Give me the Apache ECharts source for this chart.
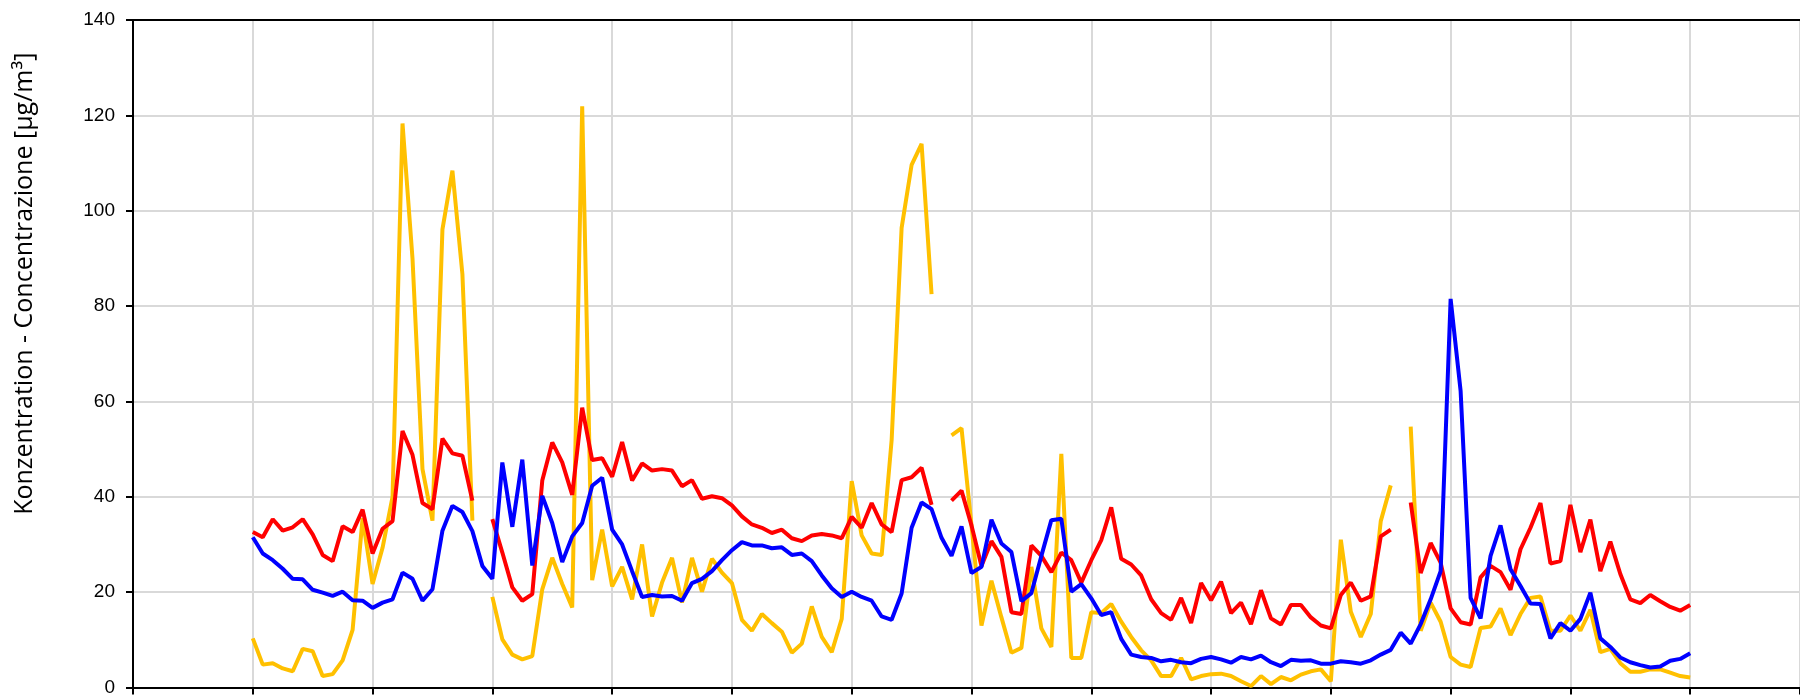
<!DOCTYPE html>
<html>
<head>
<meta charset="utf-8">
<script src="https://cdn.jsdelivr.net/npm/echarts@6/dist/echarts.min.js"></script>
<style>
  html, body { margin: 0; padding: 0; background: #fff; }
  #main { width: 1800px; height: 697px; }
</style>
</head>
<body>
<div id="main"></div>
<script>
// Messwerte, ein Wert pro Zeitschritt (null = Lücke)
var yellowValues = [
  10.3, 4.8, 5.1, 4.0, 3.4, 8.1, 7.6, 2.4, 2.8, 5.7, 12.1, 35.5, 21.7, 29.3, 40.0, 118.3, 90.0, 45.8, 35.0, 96.1, 108.4, 86.7, 35.0, null,
  19.0, 10.1, 6.9, 5.9, 6.6, 20.6, 27.2, 21.7, 16.8, 121.9, 22.5, 33.1, 21.2, 25.3, 18.5, 30.0, 14.9, 22.0, 27.2, 17.8, 27.2, 20.1, 27.0, 24.1,
  21.9, 14.2, 11.9, 15.4, 13.5, 11.7, 7.3, 9.2, 17.0, 10.6, 7.4, 14.4, 43.3, 31.9, 28.1, 27.8, 51.9, 96.4, 109.6, 114.0, 82.5, null, 52.9, 54.4,
  34.0, 13.0, 22.4, 14.7, 7.3, 8.3, 25.3, 12.4, 8.5, 49.0, 6.2, 6.2, 15.8, 15.6, 17.5, 13.8, 10.6, 7.8, 5.7, 2.4, 2.4, 6.2, 1.7, 2.4,
  2.8, 2.9, 2.4, 1.3, 0.3, 2.4, 0.7, 2.2, 1.5, 2.7, 3.4, 3.8, 1.3, 31.0, 15.9, 10.6, 15.4, 34.9, 42.4, null, 54.7, 11.9, 17.8, 13.8,
  6.4, 4.8, 4.3, 12.5, 12.8, 16.6, 11.0, 15.4, 18.8, 19.1, 11.9, 11.9, 15.1, 11.9, 16.3, 7.4, 8.1, 5.1, 3.3, 3.3, 3.8, 3.8, 3.1, 2.4, 2.1
];
var redValues = [
  32.6, 31.5, 35.3, 32.9, 33.6, 35.3, 32.1, 27.8, 26.5, 33.8, 32.6, 37.3, 28.1, 33.3, 34.9, 53.8, 48.8, 38.7, 37.4, 52.2, 49.1, 48.6, 39.2, null,
  35.3, 28.3, 21.0, 18.2, 19.6, 43.4, 51.4, 47.2, 40.4, 58.7, 47.7, 48.1, 44.2, 51.5, 43.4, 47.0, 45.5, 45.8, 45.5, 42.2, 43.5, 39.6, 40.1, 39.7,
  38.2, 35.9, 34.2, 33.5, 32.4, 33.1, 31.3, 30.7, 31.9, 32.2, 31.9, 31.3, 35.8, 33.5, 38.7, 34.2, 32.6, 43.5, 44.1, 46.1, 38.3, null, 39.2, 41.3,
  34.0, 25.5, 30.7, 27.4, 15.8, 15.4, 29.8, 27.6, 24.2, 28.3, 26.7, 22.0, 26.7, 30.9, 37.8, 27.0, 25.8, 23.5, 18.5, 15.6, 14.2, 18.8, 13.5, 21.9,
  18.3, 22.2, 15.6, 17.8, 13.3, 20.4, 14.5, 13.2, 17.3, 17.3, 14.7, 13.0, 12.4, 19.4, 22.0, 18.2, 19.1, 31.7, 33.1, null, 38.8, 24.0, 30.3, 26.2,
  16.6, 13.7, 13.2, 23.1, 25.5, 24.2, 20.5, 29.0, 33.5, 38.7, 26.0, 26.5, 38.3, 28.4, 35.2, 24.4, 30.6, 23.8, 18.5, 17.7, 19.4, 18.1, 16.9, 16.1, 17.3
];
var blueValues = [
  31.5, 28.1, 26.7, 24.9, 22.8, 22.7, 20.5, 19.9, 19.2, 20.1, 18.3, 18.2, 16.7, 17.8, 18.5, 24.1, 22.8, 18.2, 20.6, 32.9, 38.1, 36.8, 32.8, 25.5,
  22.8, 47.2, 33.7, 47.8, 25.6, 40.2, 34.5, 26.3, 31.7, 34.5, 42.3, 44.0, 33.1, 30.0, 24.4, 19.0, 19.4, 19.1, 19.2, 18.2, 21.9, 22.8, 24.4, 26.7,
  28.8, 30.5, 29.8, 29.8, 29.2, 29.4, 27.8, 28.1, 26.5, 23.5, 20.8, 19.0, 20.1, 19.0, 18.2, 14.9, 14.2, 19.7, 33.5, 38.8, 37.4, 31.4, 27.6, 33.8,
  24.0, 25.3, 35.2, 30.2, 28.4, 18.1, 19.8, 27.6, 35.1, 35.4, 20.1, 21.7, 18.7, 15.2, 15.8, 10.2, 6.9, 6.4, 6.2, 5.5, 5.8, 5.3, 5.1, 6.0,
  6.4, 5.9, 5.2, 6.4, 5.9, 6.7, 5.3, 4.5, 5.8, 5.6, 5.7, 5.0, 5.0, 5.5, 5.3, 5.0, 5.7, 6.9, 7.9, 11.5, 9.2, 13.3, 18.5, 24.4,
  81.5, 62.2, 18.8, 14.5, 27.6, 34.0, 24.8, 21.3, 17.6, 17.5, 10.3, 13.5, 11.9, 14.4, 19.9, 10.3, 8.5, 6.3, 5.3, 4.7, 4.2, 4.4, 5.6, 6.0, 7.2
];
var yTicks = [0, 20, 40, 60, 80, 100, 120, 140];

function toPoints(values) {
  return values.map(function (v, i) { return [i, v === null ? '-' : v]; });
}

var myChart = echarts.init(document.getElementById('main'));
myChart.setOption({
  animation: false,
  grid: {
    left: 133,
    right: -3,
    top: 20,
    bottom: 5
  },
  xAxis: [
    {
      type: 'value',
      min: -12,
      max: 155,
      interval: 12,
      axisLine: { show: true, onZero: false, lineStyle: { color: '#000', width: 2 } },
      axisTick: { show: true, length: 7, lineStyle: { color: '#000', width: 2 } },
      axisLabel: { show: false },
      splitLine: { show: true, lineStyle: { color: '#d9d9d9', width: 2 } }
    },
    {
      // obere Rahmenlinie
      type: 'value',
      position: 'top',
      min: -12,
      max: 155,
      interval: 12,
      axisLine: { show: true, onZero: false, lineStyle: { color: '#000', width: 2 } },
      axisTick: { show: false },
      axisLabel: { show: false },
      splitLine: { show: false }
    }
  ],
  yAxis: {
    type: 'value',
    min: yTicks[0],
    max: yTicks[yTicks.length - 1],
    interval: 20,
    name: 'Konzentration - Concentrazione [µg/m³]',
    nameLocation: 'middle',
    nameGap: 96,
    nameTextStyle: { fontFamily: 'Open Sans', fontSize: 25, color: '#000', padding: [0, 0, 0, 140] },
    axisLine: { show: true, onZero: false, lineStyle: { color: '#000', width: 2 } },
    axisTick: { show: true, length: 7, lineStyle: { color: '#000', width: 2 } },
    axisLabel: { margin: 18, fontFamily: 'Liberation Sans', fontSize: 19, color: '#000' },
    splitLine: { show: true, lineStyle: { color: '#d9d9d9', width: 2 } }
  },
  series: [
    {
      type: 'line',
      data: toPoints(yellowValues),
      showSymbol: false,
      connectNulls: false,
      lineStyle: { color: '#FFC000', width: 4 },
      itemStyle: { color: '#FFC000' }
    },
    {
      type: 'line',
      data: toPoints(redValues),
      showSymbol: false,
      connectNulls: false,
      lineStyle: { color: '#FF0000', width: 4 },
      itemStyle: { color: '#FF0000' }
    },
    {
      type: 'line',
      data: toPoints(blueValues),
      showSymbol: false,
      connectNulls: false,
      lineStyle: { color: '#0000FF', width: 4 },
      itemStyle: { color: '#0000FF' }
    }
  ]
});
</script>
</body>
</html>
